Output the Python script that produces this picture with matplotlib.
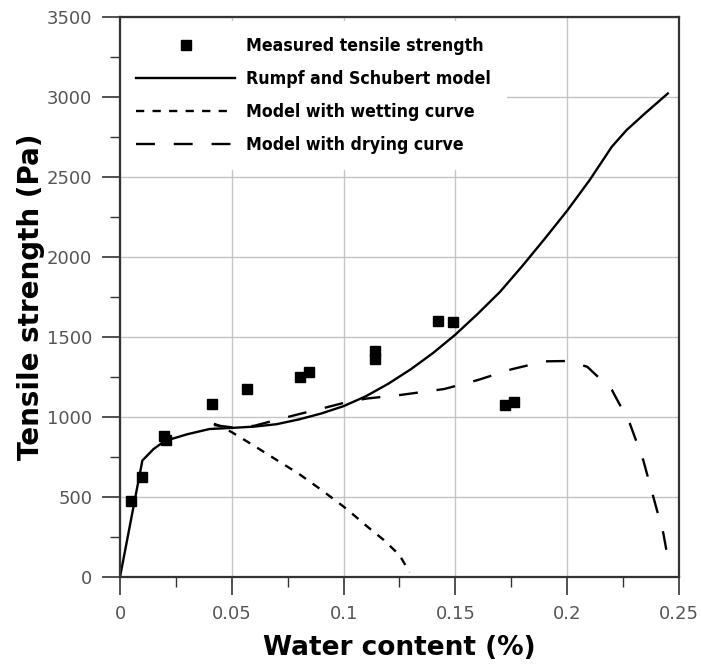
import matplotlib
matplotlib.use("Agg")
from matplotlib import pyplot as plt
from matplotlib.ticker import MultipleLocator

# measured tensile strength
meas_x = [0.0048, 0.010, 0.0195, 0.0205, 0.041, 0.0568, 0.0807, 0.0847,
          0.114, 0.114, 0.142, 0.149, 0.1722, 0.1762]
meas_y = [477, 623, 880, 858, 1083, 1177, 1252, 1283,
          1415, 1365, 1602, 1596, 1075, 1092]

# Rumpf and Schubert model
rs_x = [0, 0.010, 0.015, 0.020, 0.030, 0.040, 0.050, 0.060, 0.070, 0.080,
        0.090, 0.100, 0.110, 0.120, 0.130, 0.140, 0.150, 0.160, 0.170,
        0.180, 0.190, 0.200, 0.210, 0.220, 0.2266, 0.235, 0.245]
rs_y = [0, 728, 800, 850, 892, 925, 932, 940, 955, 985,
        1022, 1068, 1130, 1208, 1298, 1400, 1515, 1645, 1783,
        1945, 2115, 2290, 2480, 2690, 2794, 2900, 3022]

# model with wetting curve
wet_x = [0.042, 0.045, 0.050, 0.060, 0.070, 0.080, 0.090, 0.100, 0.105,
         0.110, 0.118, 0.125, 0.1295]
wet_y = [958, 942, 905, 820, 732, 645, 545, 440, 382,
         322, 231, 137, 30]

# model with drying curve
dry_x = [0.042, 0.050, 0.060, 0.070, 0.080, 0.090, 0.100, 0.110, 0.125,
         0.145, 0.160, 0.175, 0.190, 0.200, 0.209, 0.220, 0.228, 0.234,
         0.2385, 0.243, 0.2455]
dry_y = [950, 935, 945, 982, 1018, 1052, 1088, 1115, 1137,
         1175, 1231, 1298, 1348, 1350, 1314, 1169, 960, 731,
         502, 273, 80]

x_ticks = [0, 0.05, 0.1, 0.15, 0.2, 0.25]
x_tick_labels = ["0", "0.05", "0.1", "0.15", "0.2", "0.25"]

fig = plt.figure(figsize=(7.01, 6.67), dpi=100)
ax = fig.add_axes([0.1712, 0.1349, 0.7974, 0.8396])

ax.plot(meas_x, meas_y, linestyle="none", marker="s", markersize=7.5,
        color="black", label="Measured tensile strength", zorder=5)
ax.plot(rs_x, rs_y, color="black", lw=1.7,
        label="Rumpf and Schubert model", zorder=4)
ax.plot(wet_x, wet_y, color="black", lw=1.7, dashes=(3.5, 3.5),
        label="Model with wetting curve", zorder=4)
ax.plot(dry_x, dry_y, color="black", lw=1.7, dashes=(8, 8),
        label="Model with drying curve", zorder=4)

ax.set_xlim(0, 0.25)
ax.set_ylim(0, 3500)
ax.set_xticks(x_ticks)
ax.set_xticklabels(x_tick_labels)
ax.xaxis.set_minor_locator(MultipleLocator(0.025))
ax.yaxis.set_major_locator(MultipleLocator(500))
ax.yaxis.set_minor_locator(MultipleLocator(250))

ax.grid(True, which="major", color="#c4c4c4", lw=1.0)
ax.set_axisbelow(True)
for s in ax.spines.values():
    s.set_color("#333333")
    s.set_linewidth(1.6)
    s.set_zorder(10)

ax.tick_params(which="major", length=13, width=1.2, color="#333333",
               labelsize=13, labelcolor="#555555", pad=7)
ax.tick_params(which="minor", length=7, width=1.0, color="#333333")

ax.set_xlabel("Water content (%)", fontsize=19, fontweight="bold", labelpad=9)
ax.set_ylabel("Tensile strength (Pa)", fontsize=20, fontweight="bold",
              labelpad=1)

leg = ax.legend(loc="upper left", bbox_to_anchor=(0.001, 0.993), frameon=True,
                fancybox=False, edgecolor="white", facecolor="white",
                framealpha=1, handlelength=5.6, handletextpad=0.6,
                labelspacing=0.86, borderpad=0.9, borderaxespad=0.0,
                prop={"family": "DejaVu Sans", "weight": "bold",
                      "stretch": "condensed", "size": 12.7})
leg.get_frame().set_linewidth(0)

fig.savefig("out.png", dpi=100)
